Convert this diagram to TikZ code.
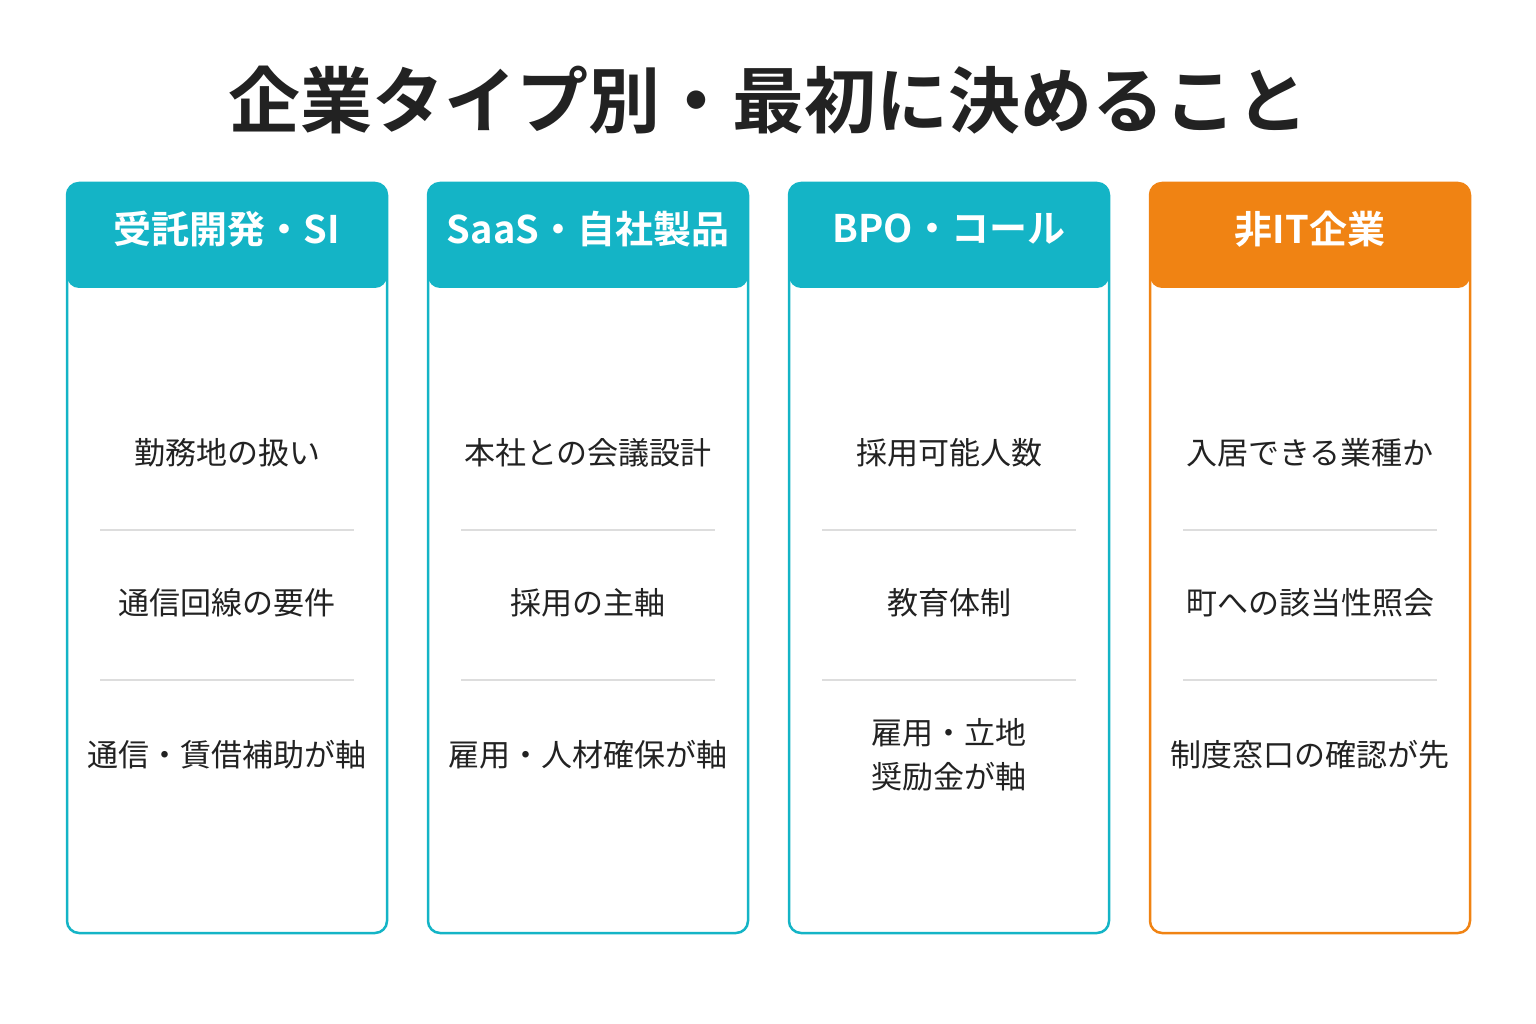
\documentclass[tikz,border=0pt]{standalone}
\usepackage{fontspec}
\setmainfont{Noto Sans CJK JP}[BoldFont={* Bold}]
\definecolor{teal}{HTML}{14B4C6}
\definecolor{org}{HTML}{F08313}
\definecolor{txt}{HTML}{222222}
\definecolor{divc}{HTML}{DDDDDD}
\begin{document}
\begin{tikzpicture}[x=1pt,y=-1pt,
  card/.style={draw=#1,line width=2.5pt,rounded corners=12pt,fill=white},
  head/.style={fill=#1,rounded corners=12pt},
  htext/.style={text=white,font=\fontsize{38}{44}\selectfont\bfseries},
  btext/.style={text=txt,font=\fontsize{31}{44}\selectfont,align=center},
  dv/.style={draw=divc,line width=1.5pt}]
\useasboundingbox (0,0) rectangle (1536,1024);
\node[text=txt,font=\fontsize{72}{80}\selectfont\bfseries] (title) at (768,100) {企業タイプ別・最初に決めること};
\foreach \i/\x/\c/\h/\a/\b/\d in {
 1/67/teal/受託開発・SI/勤務地の扱い/通信回線の要件/通信・賃借補助が軸,
 2/428/teal/SaaS・自社製品/本社との会議設計/採用の主軸/雇用・人材確保が軸,
 3/789/teal/BPO・コール/採用可能人数/教育体制/{雇用・立地\\奨励金が軸},
 4/1150/org/非IT企業/入居できる業種か/町への該当性照会/制度窓口の確認が先}{
  \draw[card=\c] (\x,183) rectangle ++(320,750);
  \fill[head=\c] (\x,183) rectangle ++(320,105);
  \node[htext] (h\i) at (\x+160,229) {\h};
  \node[btext] (a\i) at (\x+160,453) {\a};
  \node[btext] (b\i) at (\x+160,603) {\b};
  \node[btext] (c\i) at (\x+160,755) {\d};
  \draw[dv] (\x+33,530) -- (\x+287,530);
  \draw[dv] (\x+33,680) -- (\x+287,680);
}
\end{tikzpicture}
\end{document}
